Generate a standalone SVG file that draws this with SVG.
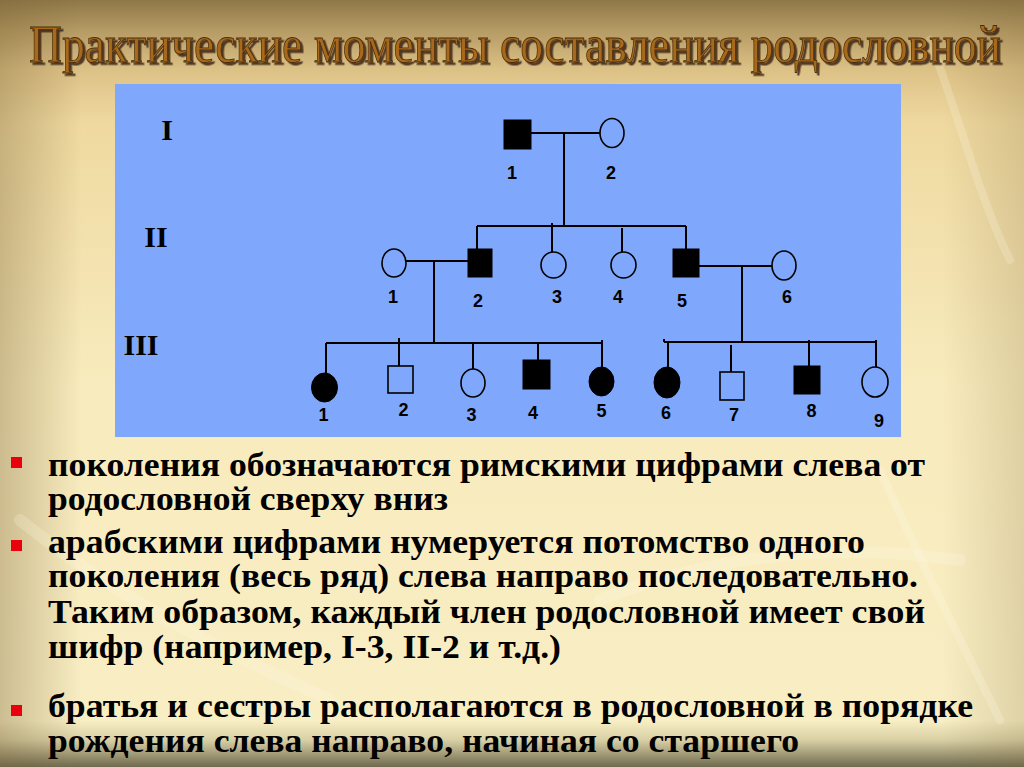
<svg xmlns="http://www.w3.org/2000/svg" width="1024" height="767" viewBox="0 0 1024 767">
<defs>
<linearGradient id="bg" x1="0" y1="0" x2="0" y2="1">
<stop offset="0" stop-color="#8f7748"/>
<stop offset="0.04" stop-color="#b59b64"/>
<stop offset="0.09" stop-color="#dcc186"/>
<stop offset="0.16" stop-color="#efd9a0"/>
<stop offset="0.5" stop-color="#f8ebbd"/>
<stop offset="0.94" stop-color="#f8eec4"/>
<stop offset="0.965" stop-color="#d8cfa4"/>
<stop offset="1" stop-color="#6f6a4f"/>
</linearGradient>
<linearGradient id="side" x1="0" y1="0" x2="1" y2="0">
<stop offset="0" stop-color="#7a6234" stop-opacity="0.35"/>
<stop offset="0.08" stop-color="#7a6234" stop-opacity="0"/>
<stop offset="0.92" stop-color="#7a6234" stop-opacity="0"/>
<stop offset="1" stop-color="#7a6234" stop-opacity="0.2"/>
</linearGradient>
<filter id="shadow" x="-5%" y="-20%" width="110%" height="160%">
<feDropShadow dx="2.5" dy="2.5" stdDeviation="0.6" flood-color="#2e1f08" flood-opacity="0.8"/>
</filter>
<style>
.ln{stroke:#000;stroke-width:2;fill:none}
.aff{fill:#000;stroke:#000;stroke-width:1}
.un{fill:none;stroke:#000;stroke-width:1.6}
.num{font-family:"Liberation Sans",Arial,sans-serif;font-weight:bold;font-size:18px;fill:#000;text-anchor:middle}
.gen{font-family:"Liberation Serif","Times New Roman",serif;font-weight:bold;font-size:30px;fill:#000;text-anchor:middle}
.txt{font-family:"Liberation Serif","Times New Roman",serif;font-weight:bold;font-size:34px;fill:#000}
.bul{fill:#e8000c}
.deco{fill:none;stroke:#fffbe6;stroke-opacity:0.22;stroke-linecap:round}
</style>
</defs>
<rect width="1024" height="767" fill="url(#bg)"/>
<rect width="1024" height="767" fill="url(#side)"/>
<g id="decor">
<path class="deco" stroke-width="18" d="M470 130 C560 90 640 80 720 110"/>
<path class="deco" stroke-width="8" d="M930 40 C960 120 980 200 1010 260"/>
<path class="deco" stroke-width="12" d="M20 520 C120 600 220 650 330 700"/>
<path class="deco" stroke-width="8" d="M880 470 C920 560 960 640 1000 720"/>
<path class="deco" stroke-width="12" d="M600 600 C700 560 820 540 960 560"/>
</g>
<g id="title" filter="url(#shadow)">
<text transform="translate(29,62) scale(1,1.15)" x="0" y="0" font-family="'Liberation Serif','Times New Roman',serif" font-size="46" fill="#a8691d" stroke="#4a2f0a" stroke-width="0.7" textLength="972" lengthAdjust="spacingAndGlyphs">Практические моменты составления родословной</text>
</g>
<rect id="panel" x="115" y="84" width="786" height="353" fill="#7fa7fb"/>
<g id="generations">
<text class="gen" x="167" y="140">I</text>
<text class="gen" x="156" y="247">II</text>
<text class="gen" x="141" y="355">III</text>
</g>
<g id="connectors">
<path class="ln" d="M531 133 H600 M564 133 V226 M477 226 H686 M477 226 V249 M552 223 V252 M622 228 V252 M686 226 V249"/>
<path class="ln" d="M406 261 H468 M434 261 V343 M326 343 H603 M326 343 V373 M399 338 V366 M473 343 V369 M538 343 V360 M602 340 V367"/>
<path class="ln" d="M699 266 H772 M742 266 V342 M664 342 H877 M664 339 V342 M668 342 V367 M731 345 V372 M809 340 V366 M876 340 V367"/>
</g>
<g id="I-1"><rect class="aff" x="504" y="120" width="27" height="29"/><text class="num" x="512" y="179">1</text></g>
<g id="I-2"><ellipse class="un" cx="612" cy="133" rx="12" ry="14.5"/><text class="num" x="611" y="179">2</text></g>
<g id="II-1"><ellipse class="un" cx="394" cy="263" rx="12" ry="14"/><text class="num" x="393" y="303">1</text></g>
<g id="II-2"><rect class="aff" x="468" y="249" width="24" height="28"/><text class="num" x="478" y="307">2</text></g>
<g id="II-3"><ellipse class="un" cx="553.5" cy="265" rx="12.5" ry="13"/><text class="num" x="557" y="303">3</text></g>
<g id="II-4"><ellipse class="un" cx="623.5" cy="265" rx="12.5" ry="13"/><text class="num" x="618" y="303">4</text></g>
<g id="II-5"><rect class="aff" x="673" y="249" width="26" height="28"/><text class="num" x="682" y="307">5</text></g>
<g id="II-6"><ellipse class="un" cx="784" cy="265.5" rx="12" ry="14.5"/><text class="num" x="787" y="303">6</text></g>
<g id="III-1"><ellipse class="aff" cx="324.5" cy="387.5" rx="13" ry="14.5"/><text class="num" x="323.5" y="421">1</text></g>
<g id="III-2"><rect class="un" x="388" y="366" width="25" height="27"/><text class="num" x="403.5" y="416">2</text></g>
<g id="III-3"><ellipse class="un" cx="473" cy="383" rx="12" ry="14"/><text class="num" x="471.5" y="421">3</text></g>
<g id="III-4"><rect class="aff" x="523" y="360" width="27" height="29"/><text class="num" x="533" y="419">4</text></g>
<g id="III-5"><ellipse class="aff" cx="601.5" cy="381.5" rx="12.5" ry="14.5"/><text class="num" x="601.5" y="417">5</text></g>
<g id="III-6"><ellipse class="aff" cx="667" cy="382.5" rx="13" ry="15.5"/><text class="num" x="666" y="419">6</text></g>
<g id="III-7"><rect class="un" x="720" y="372" width="24" height="28"/><text class="num" x="734" y="421">7</text></g>
<g id="III-8"><rect class="aff" x="794" y="366" width="26" height="28"/><text class="num" x="811.5" y="417">8</text></g>
<g id="III-9"><ellipse class="un" cx="875" cy="382" rx="13" ry="15"/><text class="num" x="879" y="427">9</text></g>
<g id="bullets">
<rect class="bul" x="11" y="457" width="11" height="11"/>
<rect class="bul" x="11" y="540" width="11" height="11"/>
<rect class="bul" x="11" y="705" width="11" height="11"/>
<text class="txt" x="48" y="476" textLength="877" lengthAdjust="spacingAndGlyphs">поколения обозначаются римскими цифрами слева от</text>
<text class="txt" x="48" y="510" textLength="400" lengthAdjust="spacingAndGlyphs">родословной сверху вниз</text>
<text class="txt" x="48" y="553" textLength="817" lengthAdjust="spacingAndGlyphs">арабскими цифрами нумеруется потомство одного</text>
<text class="txt" x="48" y="587" textLength="870" lengthAdjust="spacingAndGlyphs">поколения (весь ряд) слева направо последовательно.</text>
<text class="txt" x="48" y="623" textLength="877" lengthAdjust="spacingAndGlyphs">Таким образом, каждый член родословной имеет свой</text>
<text class="txt" x="48" y="658" textLength="513" lengthAdjust="spacingAndGlyphs">шифр (например, I-3, II-2 и т.д.)</text>
<text class="txt" x="48" y="717" textLength="925" lengthAdjust="spacingAndGlyphs">братья и сестры располагаются в родословной в порядке</text>
<text class="txt" x="48" y="752" textLength="751" lengthAdjust="spacingAndGlyphs">рождения слева направо, начиная со старшего</text>
</g>
</svg>
